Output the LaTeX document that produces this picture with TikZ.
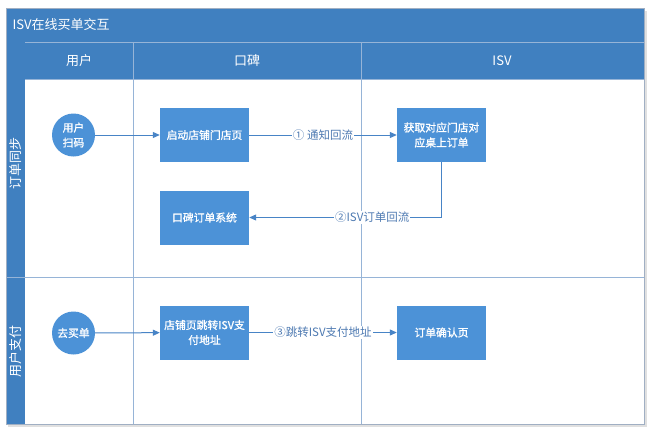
\documentclass[tikz,border=0pt]{standalone}
\usepackage{fontspec}
\setmainfont{Noto Sans CJK SC}
\newfontfamily\boxfont{Noto Sans CJK SC}[AutoFakeBold=1.2]
\usetikzlibrary{arrows.meta}
\definecolor{hdr}{RGB}{64,128,192}
\definecolor{boxc}{RGB}{76,146,215}
\definecolor{gridc}{RGB}{150,180,215}
\definecolor{conn}{RGB}{72,132,198}
\definecolor{lblc}{RGB}{78,122,178}
\definecolor{framec}{RGB}{160,175,195}
\tikzset{
  stepbox/.style={rectangle, fill=boxc, minimum width=89pt, minimum height=54pt, inner sep=2pt,
    text=white, font=\boxfont\bfseries\fontsize{10.8}{15}\selectfont, align=center},
  circ/.style={circle, fill=boxc, minimum size=43pt, inner sep=0pt, text=white,
    font=\boxfont\bfseries\fontsize{10.8}{15}\selectfont, align=center},
  conline/.style={draw=conn, line width=1pt, -{Triangle[length=7pt,width=6pt]}},
  lbl/.style={fill=white, text=lblc, inner sep=1pt, font=\fontsize{11.5}{14}\selectfont},
  gridline/.style={draw=gridc, line width=0.9pt},
  hdrtext/.style={text=white, font=\fontsize{13}{16}\selectfont},
}
\begin{document}
\begin{tikzpicture}[x=1pt,y=-1pt]
\useasboundingbox (0,0) rectangle (650,432);
% shadow and frame
\fill[black!12] (8,11) rectangle (647,427);
\fill[white] (6,8) rectangle (644,424);
% title bar
\fill[hdr] (6,8) rectangle (644,42);
\node[hdrtext, anchor=west] (title) at (9,25) {ISV在线买单交互};
% header row
\fill[hdr] (25,42) rectangle (644,79);
% left strip
\fill[hdr] (6,42) rectangle (25,424);
% grid
\draw[gridline] (25,42) -- (644,42);
\draw[gridline] (133,42) -- (133,424);
\draw[gridline] (361,42) -- (361,424);
\draw[gridline] (25,79) -- (644,79);
\draw[gridline] (6,277) -- (644,277);
\draw[draw=framec, line width=0.8pt] (6,8) rectangle (644,424);
% header texts
\node[hdrtext] (h1) at (79,61) {用户};
\node[hdrtext] (h2) at (247,61) {口碑};
\node[hdrtext] (h3) at (502,61) {ISV};
% row labels
\node[hdrtext, rotate=90] (r1) at (16,163) {订单同步};
\node[hdrtext, rotate=90] (r2) at (16,351) {用户支付};
% nodes
\node[circ] (c1) at (73.5,135) {用户\\扫码};
\node[stepbox] (b1) at (204.5,135) {启动店铺门店页};
\node[stepbox] (b3) at (441.5,135) {获取对应门店对\\应桌上订单};
\node[stepbox] (b2) at (204.5,217.5) {口碑订单系统};
\node[circ] (c2) at (73.5,333) {去买单};
\node[stepbox] (b4) at (204.5,332.5) {店铺页跳转ISV支\\付地址};
\node[stepbox] (b5) at (441.5,332.5) {订单确认页};
% connectors
\draw[conline] (c1) -- (b1);
\draw[conline] (b1) -- node[lbl] (l1) {① 通知回流} (b3);
\draw[conline] (b3.south) |- node[lbl, pos=0.68] (l2) {②ISV订单回流} (b2.east);
\draw[conline] (c2) -- (b4);
\draw[conline] (b4) -- node[lbl] (l3) {③跳转ISV支付地址} (b5);
\end{tikzpicture}
\end{document}
